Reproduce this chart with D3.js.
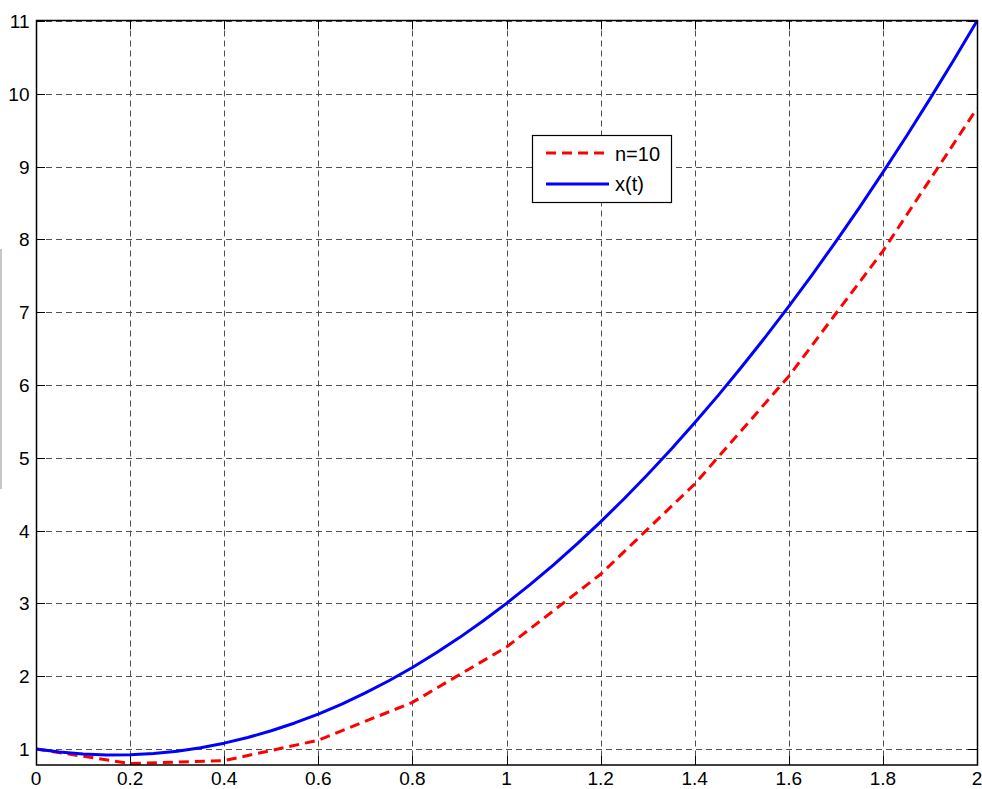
<!DOCTYPE html>
<html>
<head>
<meta charset="utf-8">
<script src="https://d3js.org/d3.v7.min.js"></script>
<style>
  html, body { margin: 0; padding: 0; background: #fff; }
  svg { display: block; font-family: "Liberation Sans", Arial, sans-serif; }
</style>
</head>
<body>
<svg id="chart" width="982" height="789"></svg>
<script>
// Euler approximation with step 0.2 (n = 10)
const eulerT = [0, 0.2, 0.4, 0.6, 0.8, 1.0, 1.2, 1.4, 1.6, 1.8, 2.0];
const eulerX = [1, 0.8, 0.84, 1.12, 1.64, 2.4, 3.4, 4.64, 6.12, 7.84, 9.8];

// Exact solution x(t), sampled every 0.05
const exactT = [0, 0.05, 0.1, 0.15, 0.2, 0.25, 0.3, 0.35, 0.4, 0.45, 0.5, 0.55, 0.6, 0.65, 0.7, 0.75, 0.8,
  0.85, 0.9, 0.95, 1.0, 1.05, 1.1, 1.15, 1.2, 1.25, 1.3, 1.35, 1.4, 1.45, 1.5, 1.55, 1.6, 1.65, 1.7,
  1.75, 1.8, 1.85, 1.9, 1.95, 2.0];
const exactX = [1, 0.9575, 0.93, 0.9175, 0.92, 0.9375, 0.97, 1.0175, 1.08, 1.1575, 1.25, 1.3575, 1.48,
  1.6175, 1.77, 1.9375, 2.12, 2.3175, 2.53, 2.7575, 3, 3.2575, 3.53, 3.8175, 4.12, 4.4375, 4.77,
  5.1175, 5.48, 5.8575, 6.25, 6.6575, 7.08, 7.5175, 7.97, 8.4375, 8.92, 9.4175, 9.93, 10.4575, 11];

const xTicks = [0, 0.2, 0.4, 0.6, 0.8, 1, 1.2, 1.4, 1.6, 1.8, 2];
const yTicks = [1, 2, 3, 4, 5, 6, 7, 8, 9, 10, 11];
const seriesNames = ["n=10", "x(t)"];

const svg = d3.select("#chart");
const L = 36, R = 977, T = 20.5, B = 765;

const x = d3.scaleLinear().domain([0, 2]).range([L, R]);
const y = d3.scaleLinear().domain([0.78, 11]).range([B, T + 0.5]);

// faint vertical stroke at the far left
svg.append("line").attr("x1", 1).attr("x2", 1).attr("y1", 249).attr("y2", 489)
  .attr("stroke", "#b5b5b5").attr("stroke-width", 1.5);

// dashed grid
const grid = svg.append("g").attr("stroke", "#505050").attr("stroke-width", 1)
  .attr("stroke-dasharray", "6,4");
grid.selectAll(".gx").data(xTicks).join("line")
  .attr("x1", d => Math.round(x(d)) + 0.5).attr("x2", d => Math.round(x(d)) + 0.5)
  .attr("y1", T).attr("y2", B);
grid.selectAll(".gy").data(yTicks).join("line")
  .attr("y1", d => Math.round(y(d)) + 0.5).attr("y2", d => Math.round(y(d)) + 0.5)
  .attr("x1", L).attr("x2", R);

// inward ticks on all four sides
const tk = 9;
const ticks = svg.append("g").attr("stroke", "#000").attr("stroke-width", 1);
xTicks.forEach(d => {
  const px = Math.round(x(d)) + 0.5;
  ticks.append("line").attr("x1", px).attr("x2", px).attr("y1", B).attr("y2", B - tk);
  ticks.append("line").attr("x1", px).attr("x2", px).attr("y1", T).attr("y2", T + tk);
});
yTicks.forEach(d => {
  const py = Math.round(y(d)) + 0.5;
  ticks.append("line").attr("y1", py).attr("y2", py).attr("x1", L).attr("x2", L + tk);
  ticks.append("line").attr("y1", py).attr("y2", py).attr("x1", R).attr("x2", R - tk);
});

// series lines
svg.append("clipPath").attr("id", "plotclip")
  .append("rect").attr("x", L).attr("y", T - 2).attr("width", R - L + 2).attr("height", B - T + 2);

const line = d3.line().x(d => x(d[0])).y(d => y(d[1]));
svg.append("path")
  .attr("d", line(eulerT.map((t, i) => [t, eulerX[i]])))
  .attr("fill", "none").attr("stroke", "#ff0000").attr("stroke-width", 3)
  .attr("stroke-dasharray", "10,6").attr("clip-path", "url(#plotclip)");
svg.append("path")
  .attr("d", line(exactT.map((t, i) => [t, exactX[i]])))
  .attr("fill", "none").attr("stroke", "#0000ff").attr("stroke-width", 3)
  .attr("stroke-linejoin", "round").attr("clip-path", "url(#plotclip)");

// axes frame
svg.append("rect").attr("x", L + 0.5).attr("y", T).attr("width", R - L).attr("height", B - T)
  .attr("fill", "none").attr("stroke", "#000").attr("stroke-width", 1.5);

// tick labels
svg.append("g").selectAll("text").data(xTicks).join("text")
  .attr("x", d => x(d)).attr("y", 785).attr("text-anchor", "middle")
  .attr("font-size", 19).attr("fill", "#000").text(d => d);
svg.append("g").selectAll("text").data(yTicks).join("text")
  .attr("x", 29.5).attr("y", d => y(d) + 7).attr("text-anchor", "end")
  .attr("font-size", 19).attr("fill", "#000").text(d => d);

// legend
const lg = svg.append("g");
lg.append("rect").attr("x", 532.5).attr("y", 135.5).attr("width", 139).attr("height", 67)
  .attr("fill", "#fff").attr("stroke", "#000").attr("stroke-width", 1.2);
lg.append("line").attr("x1", 546).attr("x2", 608).attr("y1", 153).attr("y2", 153)
  .attr("stroke", "#ff0000").attr("stroke-width", 3).attr("stroke-dasharray", "10,6");
lg.append("line").attr("x1", 546).attr("x2", 609).attr("y1", 184).attr("y2", 184)
  .attr("stroke", "#0000ff").attr("stroke-width", 3);
lg.append("text").attr("x", 615).attr("y", 161).attr("font-size", 20).text(seriesNames[0]);
lg.append("text").attr("x", 615).attr("y", 191).attr("font-size", 20).text(seriesNames[1]);
</script>
</body>
</html>
